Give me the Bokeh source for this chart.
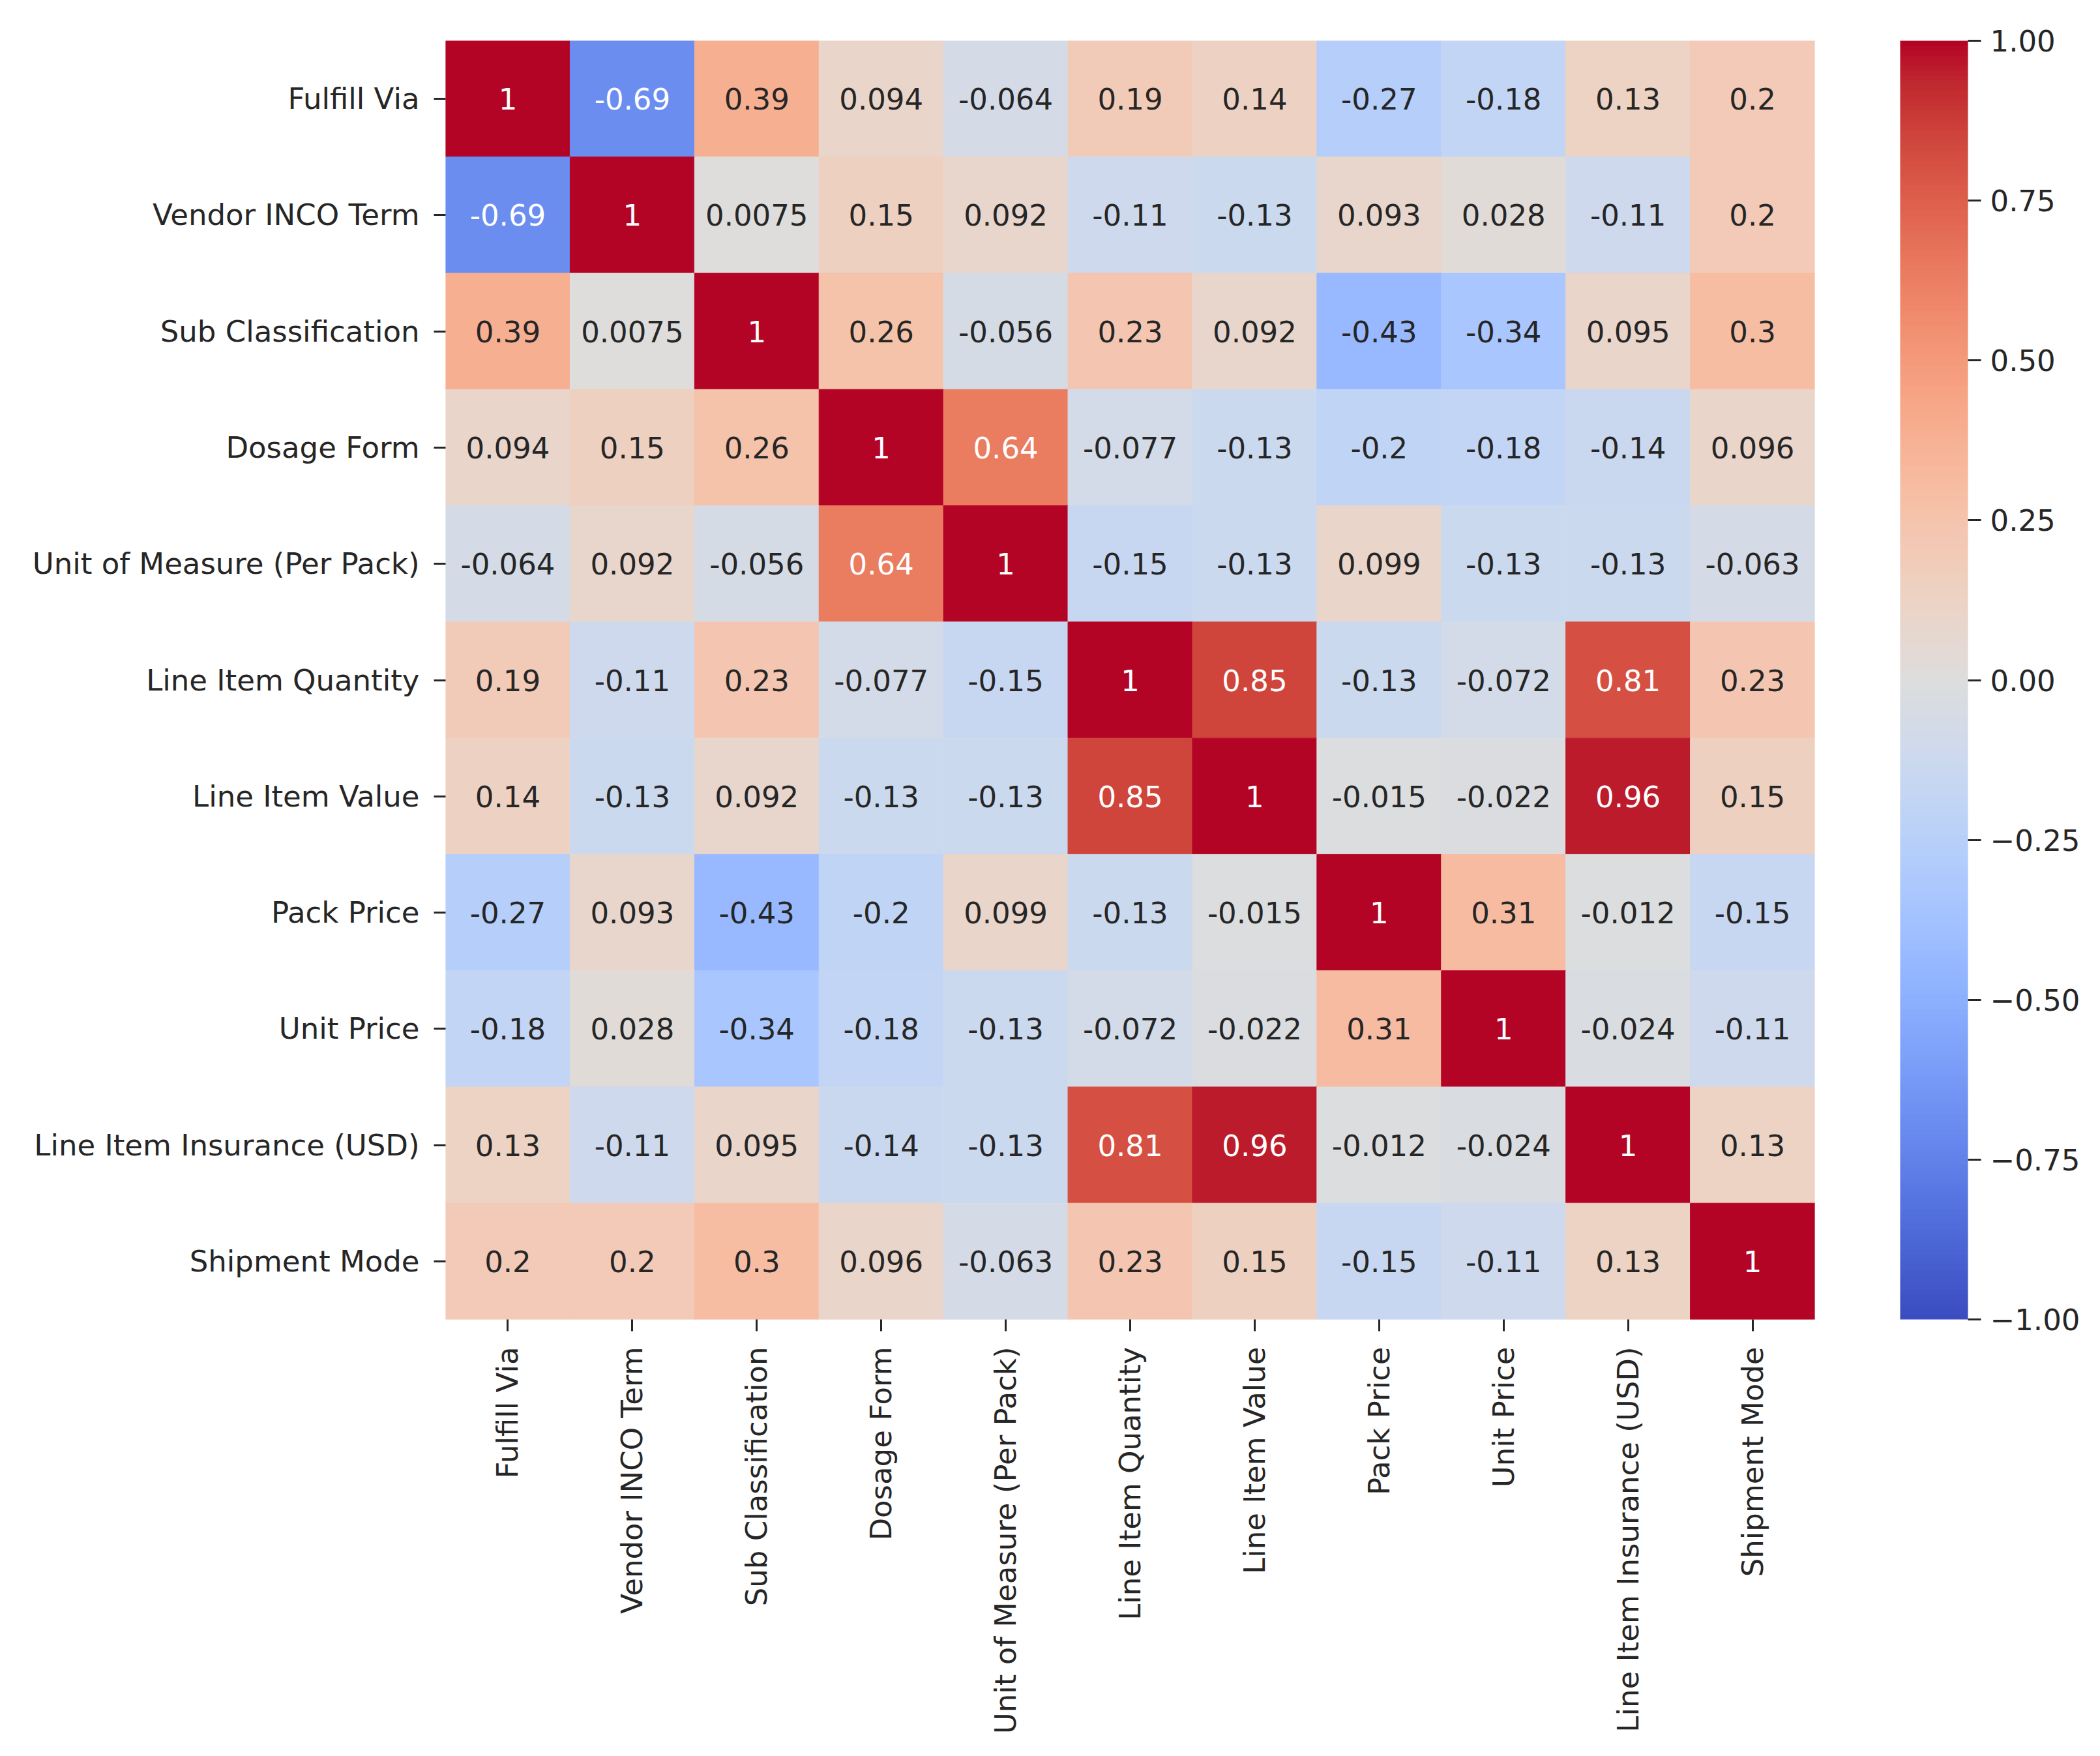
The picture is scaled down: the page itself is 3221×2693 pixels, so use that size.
import math
from bokeh.plotting import figure
from bokeh.models import (ColumnDataSource, LinearColorMapper, ColorBar, FixedTicker,
                          CustomJSTickFormatter, FactorRange)
from bokeh.transform import transform
from bokeh.core.properties import value
from bokeh.embed import file_html
from bokeh.resources import INLINE

# ---------------- data ----------------
labels = ["Fulfill Via", "Vendor INCO Term", "Sub Classification", "Dosage Form",
          "Unit of Measure (Per Pack)", "Line Item Quantity", "Line Item Value",
          "Pack Price", "Unit Price", "Line Item Insurance (USD)", "Shipment Mode"]

fulfill_via       = [1, -0.69, 0.39, 0.094, -0.064, 0.19, 0.14, -0.27, -0.18, 0.13, 0.2]
vendor_inco_term  = [-0.69, 1, 0.0075, 0.15, 0.092, -0.11, -0.13, 0.093, 0.028, -0.11, 0.2]
sub_classification = [0.39, 0.0075, 1, 0.26, -0.056, 0.23, 0.092, -0.43, -0.34, 0.095, 0.3]
dosage_form       = [0.094, 0.15, 0.26, 1, 0.64, -0.077, -0.13, -0.2, -0.18, -0.14, 0.096]
unit_of_measure   = [-0.064, 0.092, -0.056, 0.64, 1, -0.15, -0.13, 0.099, -0.13, -0.13, -0.063]
line_item_qty     = [0.19, -0.11, 0.23, -0.077, -0.15, 1, 0.85, -0.13, -0.072, 0.81, 0.23]
line_item_value   = [0.14, -0.13, 0.092, -0.13, -0.13, 0.85, 1, -0.015, -0.022, 0.96, 0.15]
pack_price        = [-0.27, 0.093, -0.43, -0.2, 0.099, -0.13, -0.015, 1, 0.31, -0.012, -0.15]
unit_price        = [-0.18, 0.028, -0.34, -0.18, -0.13, -0.072, -0.022, 0.31, 1, -0.024, -0.11]
line_item_ins     = [0.13, -0.11, 0.095, -0.14, -0.13, 0.81, 0.96, -0.012, -0.024, 1, 0.13]
shipment_mode     = [0.2, 0.2, 0.3, 0.096, -0.063, 0.23, 0.15, -0.15, -0.11, 0.13, 1]

rows = [fulfill_via, vendor_inco_term, sub_classification, dosage_form, unit_of_measure,
        line_item_qty, line_item_value, pack_price, unit_price, line_item_ins, shipment_mode]

cbar_ticks = [-1.0, -0.75, -0.5, -0.25, 0.0, 0.25, 0.5, 0.75, 1.0]

# ---------------- coolwarm colormap (Moreland diverging table) ----------------
cw_anchors = [(59, 76, 192), (68, 90, 204), (77, 104, 215), (87, 117, 225), (98, 130, 234),
              (108, 142, 241), (119, 154, 247), (130, 165, 251), (141, 176, 254),
              (152, 185, 255), (163, 194, 255), (174, 201, 253), (184, 208, 249),
              (194, 213, 244), (204, 217, 238), (213, 219, 230), (221, 221, 221),
              (229, 216, 209), (236, 211, 197), (241, 204, 185), (245, 196, 173),
              (247, 187, 160), (247, 177, 148), (247, 166, 135), (244, 154, 123),
              (241, 141, 111), (236, 127, 99), (229, 112, 88), (222, 96, 77),
              (213, 80, 66), (203, 62, 56), (192, 40, 47), (180, 4, 38)]

def cw_rgb(t):
    t = min(max(t, 0.0), 1.0)
    pos = t * (len(cw_anchors) - 1)
    i = min(int(pos), len(cw_anchors) - 2)
    f = pos - i
    a, b = cw_anchors[i], cw_anchors[i + 1]
    return tuple(a[k] + (b[k] - a[k]) * f for k in range(3))

N = 256
rgb_list = [cw_rgb(k / (N - 1)) for k in range(N)]
palette = ["#%02x%02x%02x" % tuple(int(round(c)) for c in rgb) for rgb in rgb_list]

def rel_lum(rgb):
    out = []
    for c in rgb:
        c = c / 255.0
        out.append(c / 12.92 if c <= 0.03928 else ((c + 0.055) / 1.055) ** 2.4)
    return 0.2126 * out[0] + 0.7152 * out[1] + 0.0722 * out[2]

def text_color_for(v):
    idx = min(int((v + 1.0) / 2.0 * N), N - 1)
    return "#262626" if rel_lum(rgb_list[idx]) > 0.408 else "#ffffff"

xs, ys, vals, txts, tcols = [], [], [], [], []
for i, rlab in enumerate(labels):
    for j, clab in enumerate(labels):
        v = rows[i][j]
        xs.append(clab)
        ys.append(rlab)
        vals.append(v)
        txts.append(format(v, ".2g"))
        tcols.append(text_color_for(v))

source = ColumnDataSource(dict(x=xs, y=ys, v=vals, txt=txts, tcol=tcols))

mapper = LinearColorMapper(palette=palette, low=-1, high=1)

# ---------------- layout ----------------
W, H = 3205, 2677
left, top = 683, 62
frame_w, frame_h = 2100, 1961

p = figure(width=W, height=H,
           x_range=FactorRange(*labels), y_range=FactorRange(*labels[::-1]),
           output_backend="svg", toolbar_location=None,
           min_border_left=left, min_border_top=top,
           min_border_right=W - left - frame_w, min_border_bottom=H - top - frame_h)
p.outline_line_color = None
p.grid.grid_line_color = None
p.background_fill_color = "white"
p.border_fill_color = "white"

p.rect(x="x", y="y", width=1, height=1, source=source,
       fill_color=transform("v", mapper), line_color=transform("v", mapper), line_width=1)

p.text(x="x", y="y", text="txt", source=source, text_color="tcol",
       text_align="center", text_baseline="middle",
       text_font=value("DejaVu Sans"), text_font_size="45px")

for ax in (p.xaxis[0], p.yaxis[0]):
    ax.axis_line_color = None
    ax.major_tick_in = 0
    ax.major_tick_out = 18
    ax.major_tick_line_width = 3
    ax.major_tick_line_color = "#262626"
    ax.minor_tick_line_color = None
    ax.major_label_text_font = "DejaVu Sans"
    ax.major_label_text_font_size = "45px"
    ax.major_label_text_color = "#262626"

p.yaxis.major_label_standoff = 22
p.xaxis.major_label_standoff = 24
p.xaxis.major_label_orientation = math.pi / 2

color_bar = ColorBar(color_mapper=mapper,
                     ticker=FixedTicker(ticks=cbar_ticks),
                     formatter=CustomJSTickFormatter(code="return tick.toFixed(2).replace('-', '\u2212');"),
                     width=104, height=frame_h, padding=0, margin=0,
                     location=(frame_w + 131, 0),
                     bar_line_color=None, border_line_color=None,
                     background_fill_alpha=0,
                     major_tick_in=0, major_tick_out=20,
                     major_tick_line_color="#262626", major_tick_line_width=3,
                     minor_tick_line_color=None,
                     label_standoff=14,
                     major_label_text_font="DejaVu Sans",
                     major_label_text_font_size="45px",
                     major_label_text_color="#262626")
p.add_layout(color_bar, "center")

open("out.html", "w").write(file_html(p, INLINE))
